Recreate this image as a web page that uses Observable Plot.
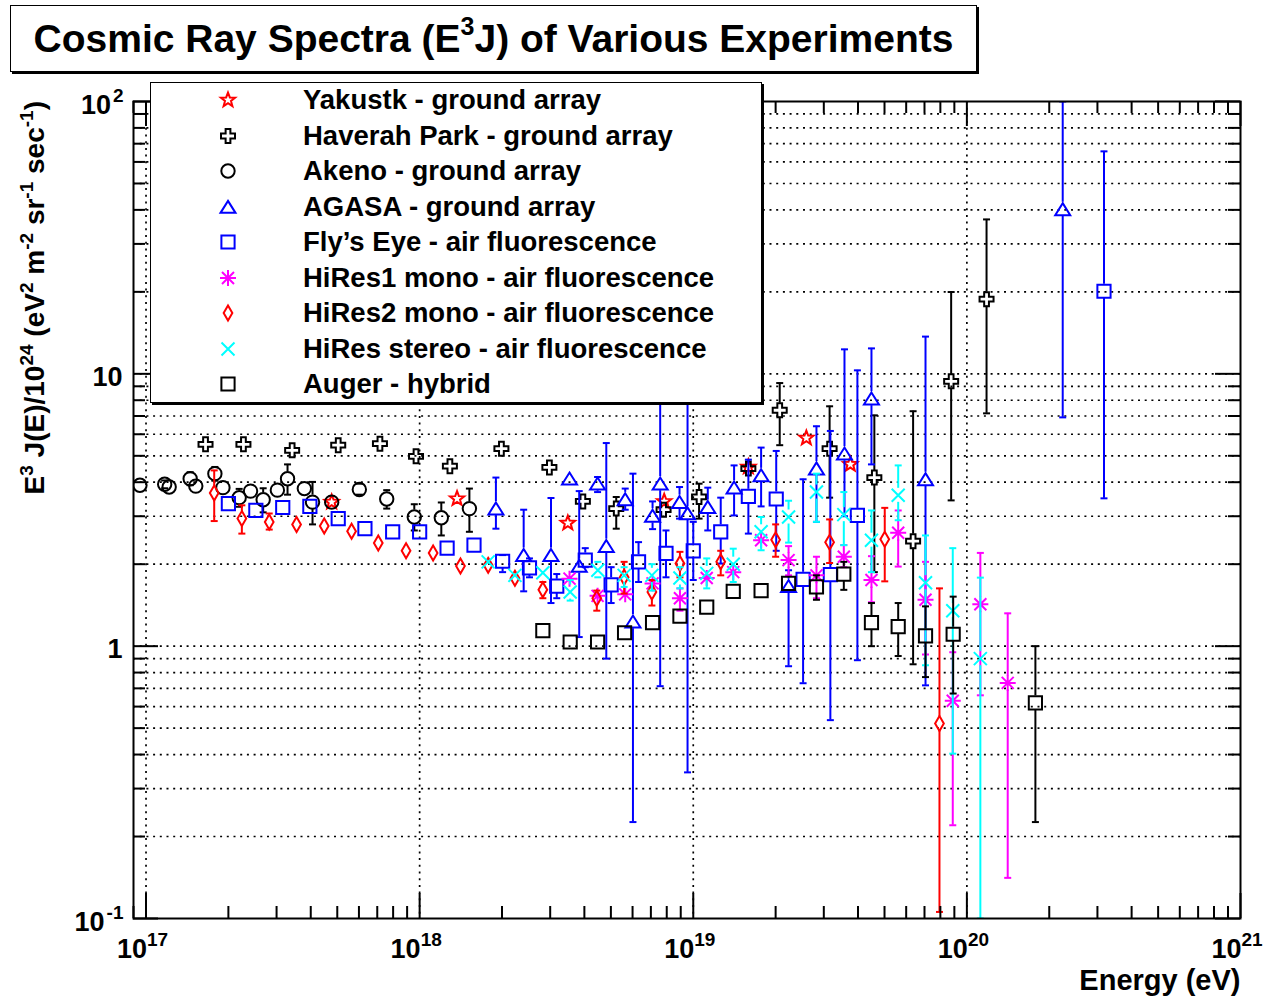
<!DOCTYPE html>
<html>
<head>
<meta charset="utf-8">
<script src="https://cdn.jsdelivr.net/npm/d3@7"></script>
<script src="https://cdn.jsdelivr.net/npm/@observablehq/plot@0.6"></script>
<style>
  body { margin: 0; background: #fff; }
  #chart { position: relative; width: 1268px; height: 1001px; font-family: "Liberation Sans", Arial, Helvetica, sans-serif; font-weight: bold; color: #000; }
  #chart svg { position: absolute; left: 0; top: 0; }
  #title { position: absolute; left: 10px; top: 5px; width: 967px; height: 67px; box-sizing: border-box; border: 1.5px solid #000; box-shadow: 2px 2px 0 #000; background: #fff; font-size: 39px; line-height: 66px; text-align: center; white-space: nowrap; }
  #title .sup { font-size: 25px; position: relative; top: -17px; }
  #legend { position: absolute; left: 150px; top: 82px; width: 612px; height: 321px; box-sizing: border-box; border: 1.5px solid #000; box-shadow: 2px 2px 0 #000; background: #fff; }
  #legend .row { position: absolute; left: 0; width: 100%; height: 34px; }
  #legend .row svg { position: absolute; left: 66px; top: 6px; width: 22px; height: 22px; overflow: visible; }
  #legend .row span { position: absolute; left: 152px; top: 0; line-height: 34px; font-size: 27.5px; white-space: nowrap; }
</style>
</head>
<body>
<div id="chart"></div>
<script>
// Rows: [energy (eV), E^3 J(E) / 1e24, lower error end, upper error end]
const yakutsk = [
  [4.77e17, 3.38], [1.37e18, 3.48], [3.48e18, 2.83], [7.83e18, 3.40],
  [1.59e19, 4.55], [2.59e19, 5.81], [3.75e19, 4.65]
];
const haverahPark = [
  [1.65e17, 5.51], [2.27e17, 5.51], [3.42e17, 5.24], [5.04e17, 5.47], [7.16e17, 5.54],
  [9.70e17, 4.98], [1.29e18, 4.58], [1.99e18, 5.31], [2.98e18, 4.53], [3.95e18, 3.40],
  [5.23e18, 3.20, 2.70, 3.53], [7.79e18, 3.17], [1.05e19, 3.53, 2.94, 3.95], [1.59e19, 4.49],
  [2.07e19, 7.35, 5.47, 9.25], [3.15e19, 5.31, 3.51, 7.60], [4.59e19, 4.16, 1.87, 7.04],
  [6.36e19, 2.43, 0.858, 7.29], [8.76e19, 9.39, 3.43, 19.97], [1.18e20, 18.8, 7.16, 36.9]
];
const akeno = [
  [9.5e16, 3.90], [1.17e17, 3.93, 3.80, 4.06], [1.215e17, 3.84], [1.45e17, 4.12, 3.90, 4.35],
  [1.52e17, 3.87], [1.785e17, 4.30, 4.05, 4.55], [1.91e17, 3.82], [2.19e17, 3.51, 3.25, 3.78],
  [2.41e17, 3.71], [2.68e17, 3.45, 3.10, 3.80], [3.02e17, 3.74], [3.29e17, 4.12, 3.60, 4.65],
  [3.79e17, 3.79], [4.06e17, 3.38, 2.80, 4.01], [4.77e17, 3.38], [6.02e17, 3.76, 3.60, 3.95],
  [7.58e17, 3.47, 3.20, 3.74], [9.56e17, 2.98, 2.66, 3.32], [1.20e18, 2.96, 2.55, 3.37],
  [1.52e18, 3.20, 2.63, 3.79]
];
const agasa = [
  [1.90e18, 3.20, 2.70, 4.16], [2.40e18, 2.16, 1.59, 3.17], [3.02e18, 2.16, 1.44, 3.50],
  [3.53e18, 4.12], [3.83e18, 1.97, 1.08, 3.71], [4.47e18, 3.95, 3.68, 4.18],
  [4.81e18, 2.33, 0.90, 5.57], [5.64e18, 3.46, 3.17, 3.79], [6.02e18, 1.23, 0.226, 4.30],
  [7.10e18, 3.01, 2.69, 3.40], [7.57e18, 3.95, 0.713, 12.0], [8.91e18, 3.38, 2.94, 3.84],
  [9.53e18, 3.07, 0.344, 11.0], [1.13e19, 3.24, 2.66, 3.82], [1.41e19, 3.82, 3.02, 4.61],
  [1.77e19, 4.24, 3.26, 5.36], [2.23e19, 1.66, 0.844, 1.90], [2.82e19, 4.49, 2.86, 6.42],
  [3.57e19, 5.09, 3.00, 12.3], [4.48e19, 8.11, 4.65, 12.4], [7.06e19, 4.10, 0.718, 13.7],
  [2.24e20, 40.2, 6.92, 100]
];
const flysEye = [
  [2.00e17, 3.34], [2.52e17, 3.15], [3.16e17, 3.23], [3.97e17, 3.26], [5.04e17, 2.94],
  [6.31e17, 2.70], [7.97e17, 2.63], [1.00e18, 2.63], [1.26e18, 2.29], [1.58e18, 2.35],
  [2.01e18, 2.05, 1.87, 2.16], [2.52e18, 1.94, 1.79, 2.10], [3.17e18, 1.66, 1.50, 1.84],
  [4.03e18, 2.07, 1.95, 2.29], [5.01e18, 1.68, 1.44, 1.95], [6.31e18, 2.04, 1.72, 2.41],
  [7.95e18, 2.19, 1.79, 2.66], [1.00e19, 2.24, 1.75, 2.86], [1.26e19, 2.63, 2.01, 3.51],
  [1.59e19, 3.55, 2.59, 4.84], [2.01e19, 3.47, 2.24, 5.21], [2.52e19, 1.76, 0.731, 4.10],
  [3.17e19, 1.83, 0.535, 6.17], [3.98e19, 3.02, 0.888, 10.3], [3.17e20, 20.1, 3.49, 65.6]
];
const hires1 = [
  [3.53e18, 1.77], [4.47e18, 1.53], [5.64e18, 1.55], [7.10e18, 1.70], [8.94e18, 1.50, 1.35, 1.63],
  [1.12e19, 1.78], [1.40e19, 1.87], [1.77e19, 2.45], [2.23e19, 2.07, 1.82, 2.33],
  [2.82e19, 1.82, 1.50, 2.13], [3.55e19, 2.13, 1.95, 2.35], [4.48e19, 1.75, 1.45, 2.14],
  [5.61e19, 2.61, 1.96, 3.15], [7.06e19, 1.48, 0.932, 2.04], [8.88e19, 0.63, 0.22, 0.95],
  [1.12e20, 1.425, 0.66, 2.20], [1.41e20, 0.733, 0.141, 1.32]
];
const hires2 = [
  [1.775e17, 3.65, 2.88, 4.42], [2.24e17, 2.94, 2.59, 3.29], [2.82e17, 2.86, 2.68, 3.07],
  [3.55e17, 2.80], [4.48e17, 2.76], [5.64e17, 2.64], [7.06e17, 2.39], [8.92e17, 2.24],
  [1.12e18, 2.20], [1.41e18, 1.97], [1.78e18, 1.98], [2.23e18, 1.776],
  [2.82e18, 1.61, 1.50, 1.72], [4.44e18, 1.50, 1.35, 1.60], [5.59e18, 1.79, 1.56, 2.04],
  [7.06e18, 1.58, 1.41, 1.75], [8.94e18, 2.01, 1.79, 2.22], [1.26e19, 2.04, 1.82, 2.24],
  [2.00e19, 2.46, 2.13, 2.80], [3.15e19, 2.41, 2.02, 2.92], [5.01e19, 2.47, 1.73, 3.22],
  [7.94e19, 0.52, 0.1057, 1.63]
];
const hiresStereo = [
  [1.78e18, 2.04], [2.23e18, 1.82], [2.82e18, 1.86], [3.55e18, 1.58, 1.47, 1.75],
  [4.48e18, 1.90, 1.79, 2.04], [5.59e18, 1.82, 1.65, 1.95], [7.06e18, 1.82, 1.60, 2.00],
  [8.94e18, 1.78, 1.63, 1.95], [1.12e19, 1.85, 1.63, 2.10], [1.40e19, 2.00, 1.72, 2.28],
  [1.77e19, 2.63, 2.25, 2.98], [2.23e19, 2.98, 2.40, 3.42], [2.82e19, 3.68, 2.86, 4.30],
  [3.55e19, 3.04, 2.35, 3.68], [4.48e19, 2.45, 1.87, 3.15], [5.61e19, 3.58, 2.90, 4.61],
  [7.06e19, 1.71, 0.851, 2.55], [8.88e19, 1.35, 0.403, 2.29], [1.12e20, 0.90, 0.1, 1.785]
];
const auger = [
  [2.82e18, 1.14], [3.55e18, 1.036], [4.47e18, 1.036], [5.61e18, 1.12], [7.10e18, 1.22],
  [8.94e18, 1.29], [1.12e19, 1.39], [1.40e19, 1.59], [1.77e19, 1.60], [2.23e19, 1.70],
  [2.82e19, 1.65, 1.48, 1.82], [3.55e19, 1.84, 1.61, 2.04], [4.48e19, 1.22, 1.00, 1.44],
  [5.61e19, 1.18, 0.92, 1.44], [7.06e19, 1.09, 0.77, 1.40], [8.91e19, 1.106, 0.67, 1.52],
  [1.78e20, 0.619, 0.226, 1.00]
];

const seriesNames = [
  "Yakustk - ground array", "Haverah Park - ground array", "Akeno - ground array",
  "AGASA - ground array", "Fly\u2019s Eye - air fluorescence", "HiRes1 mono - air fluorescence",
  "HiRes2 mono - air fluorescence", "HiRes stereo - air fluorescence", "Auger - hybrid"
];
const seriesColors = ["#ff0000", "#000000", "#000000", "#0000ff", "#0000ff", "#ff00ff", "#ff0000", "#00ffff", "#000000"];

// Axis tick labels
const xTickValues = [1e17, 1e18, 1e19, 1e20, 1e21];
const xTickExponents = ["17", "18", "19", "20", "21"];
const yTickValues = [0.1, 1, 10, 100];
const yTickBases = ["10", "1", "10", "10"];
const yTickExponents = ["-1", "", "", "2"];

// Marker shapes (size is the area π r², as Plot passes it)
const rOf = size => Math.sqrt(size / Math.PI);
const poly = (c, pts) => { pts.forEach(([x, y], i) => i ? c.lineTo(x, y) : c.moveTo(x, y)); c.closePath(); };
const starSym = {draw(c, size) {
  const r = rOf(size), ri = r * 0.42, pts = [];
  for (let k = 0; k < 10; k++) {
    const a = -Math.PI / 2 + k * Math.PI / 5, rr = k % 2 ? ri : r;
    pts.push([rr * Math.cos(a), rr * Math.sin(a)]);
  }
  poly(c, pts);
}};
const plusSym = {draw(c, size) {
  const r = rOf(size), a = r * 0.34;
  poly(c, [[-a,-r],[a,-r],[a,-a],[r,-a],[r,a],[a,a],[a,r],[-a,r],[-a,a],[-r,a],[-r,-a],[-a,-a]]);
}};
const circleSym = {draw(c, size) { const r = rOf(size); c.moveTo(r, 0); c.arc(0, 0, r, 0, 2 * Math.PI); }};
const triangleSym = {draw(c, size) { const r = rOf(size); poly(c, [[0, -0.82 * r], [r, 0.78 * r], [-r, 0.78 * r]]); }};
const squareSym = {draw(c, size) { const r = rOf(size); c.rect(-r, -r, 2 * r, 2 * r); }};
const asteriskSym = {draw(c, size) {
  const r = rOf(size), d = r * 0.75;
  c.moveTo(0, -r); c.lineTo(0, r); c.moveTo(-r, 0); c.lineTo(r, 0);
  c.moveTo(-d, -d); c.lineTo(d, d); c.moveTo(d, -d); c.lineTo(-d, d);
}};
const diamondSym = {draw(c, size) { const r = rOf(size); poly(c, [[0, -r], [0.58 * r, 0], [0, r], [-0.58 * r, 0]]); }};
const timesSym = {draw(c, size) { const r = rOf(size); c.moveTo(-r, -r); c.lineTo(r, r); c.moveTo(r, -r); c.lineTo(-r, r); }};
const capSym = {draw(c, size) { const r = rOf(size); c.moveTo(-r, 0); c.lineTo(r, 0); }};

const seriesData = [yakutsk, haverahPark, akeno, agasa, flysEye, hires1, hires2, hiresStereo, auger];
const seriesSymbols = [starSym, plusSym, circleSym, triangleSym, squareSym, asteriskSym, diamondSym, timesSym, squareSym];
const seriesRadius = [7.5, 7, 6.7, 7.5, 6.6, 8, 7.5, 6.5, 6.6];

const GAP = 7; // error bars stop at the marker outline
function seriesMarks(data, color, symbol, r) {
  const rows = data.map(([E, J, lo, hi]) => ({E, J, lo: lo ?? J, hi: hi ?? J}));
  const common = {x: "E", stroke: color, strokeWidth: 2, clip: true};
  return [
    Plot.ruleX(rows.filter(d => d.hi / d.J > 1.065), {...common, y1: "hi", y2: "J", insetBottom: GAP}),
    Plot.ruleX(rows.filter(d => d.J / d.lo > 1.065), {...common, y1: "J", y2: "lo", insetTop: GAP}),
    Plot.dot(rows.filter(d => d.hi > d.J), {...common, y: "hi", symbol: capSym, r: 3.5, fill: "none"}),
    Plot.dot(rows.filter(d => d.lo < d.J), {...common, y: "lo", symbol: capSym, r: 3.5, fill: "none"}),
    Plot.dot(rows, {...common, y: "J", symbol, r, fill: "none"})
  ];
}

// Grid and tick positions
const decades = [1e17, 1e18, 1e19, 1e20];
const xMinor = [9e16];
for (const d of decades) for (let k = 2; k <= 9; k++) xMinor.push(k * d);
const yMinor = [];
for (const d of [0.1, 1, 10]) for (let k = 2; k <= 9; k++) yMinor.push(k * d);
const yGrid = [...yMinor, 1, 10];

const MAJOR = 25, MINOR = 12;
const tickStyle = {stroke: "black", strokeWidth: 2};
const dotted = {stroke: "black", strokeWidth: 1.7, strokeDasharray: "2,4.7"};

const supWidth = s => [...s].reduce((w, ch) => w + (ch === "-" ? 0.333 : 0.556) * 19, 0);
const yLabelMarks = yTickValues.flatMap((v, i) => {
  const exp = yTickExponents[i], ew = exp ? supWidth(exp) + 1 : 0;
  const marks = [Plot.text([v], {x: 9e16, y: d => d, text: () => yTickBases[i], textAnchor: "end", lineAnchor: "bottom", dx: -11 - ew, dy: 12, fontSize: 27, fontWeight: "bold"})];
  if (exp) marks.push(Plot.text([v], {x: 9e16, y: d => d, text: () => exp, textAnchor: "end", lineAnchor: "bottom", dx: -10, dy: 0, fontSize: 19, fontWeight: "bold"}));
  return marks;
});

const chart = Plot.plot({
  width: 1268,
  height: 1001,
  marginLeft: 133,
  marginRight: 28,
  marginTop: 101,
  marginBottom: 83,
  style: {background: "transparent", fontFamily: "'Liberation Sans', Arial, Helvetica, sans-serif", overflow: "visible"},
  x: {type: "log", domain: [9e16, 1e21], axis: null},
  y: {type: "log", domain: [0.1, 100], axis: null},
  marks: [
    Plot.ruleY(yGrid, {y: d => d, ...dotted}),
    Plot.ruleX(decades, {x: d => d, ...dotted}),
    ...seriesData.flatMap((data, i) => seriesMarks(data, seriesColors[i], seriesSymbols[i], seriesRadius[i])),
    Plot.frame({stroke: "black", strokeWidth: 2}),
    // ticks on all four sides, pointing inward
    Plot.ruleX(xMinor, {x: d => d, y1: 0.1, y2: 0.1, insetBottom: MINOR, ...tickStyle}),
    Plot.ruleX(xTickValues, {x: d => d, y1: 0.1, y2: 0.1, insetBottom: MAJOR, ...tickStyle}),
    Plot.ruleX(xMinor, {x: d => d, y1: 100, y2: 100, insetTop: MINOR, ...tickStyle}),
    Plot.ruleX(xTickValues, {x: d => d, y1: 100, y2: 100, insetTop: MAJOR, ...tickStyle}),
    Plot.ruleY(yMinor, {y: d => d, x1: 9e16, x2: 9e16, insetLeft: MINOR, ...tickStyle}),
    Plot.ruleY(yTickValues, {y: d => d, x1: 9e16, x2: 9e16, insetLeft: MAJOR, ...tickStyle}),
    Plot.ruleY(yMinor, {y: d => d, x1: 1e21, x2: 1e21, insetRight: MINOR, ...tickStyle}),
    Plot.ruleY(yTickValues, {y: d => d, x1: 1e21, x2: 1e21, insetRight: MAJOR, ...tickStyle}),
    // tick labels 10^n
    Plot.text(xTickValues, {x: d => d, y: 0.1, text: () => "10", textAnchor: "end", lineAnchor: "bottom", dx: 1, dy: 39, fontSize: 27, fontWeight: "bold"}),
    Plot.text(xTickValues, {x: d => d, y: 0.1, text: (d, i) => xTickExponents[i], textAnchor: "start", lineAnchor: "bottom", dx: 1, dy: 27, fontSize: 19, fontWeight: "bold"}),
    ...yLabelMarks,
    Plot.text(["Energy (eV)"], {x: 1e21, y: 0.1, textAnchor: "end", lineAnchor: "bottom", dy: 71, fontSize: 29, fontWeight: "bold"})
  ]
});

const root = document.getElementById("chart");
root.appendChild(chart);

// Vertical axis title with superscripts
const titleParts = [["E", 0], ["3", 1], [" J(E)/10", 0], ["24", 1], [" (eV", 0], ["2", 1], [" m", 0], ["-2", 1], [" sr", 0], ["-1", 1], [" sec", 0], ["-1", 1], [")", 0]];
const yTitle = d3.select(chart).append("text")
  .attr("transform", "translate(44,101) rotate(-90)")
  .attr("text-anchor", "end")
  .attr("font-size", 28)
  .attr("font-weight", "bold");
let raised = false;
for (const [t, sup] of titleParts) {
  const ts = yTitle.append("tspan").text(t);
  if (sup) { ts.attr("font-size", 19); if (!raised) { ts.attr("dy", -11); raised = true; } }
  else if (raised) { ts.attr("dy", 11); raised = false; }
}

// Title box
const title = document.createElement("div");
title.id = "title";
title.innerHTML = 'Cosmic Ray Spectra (E<span class="sup">3</span>J) of Various Experiments';
root.appendChild(title);

// Legend box
const legend = document.createElement("div");
legend.id = "legend";
seriesNames.forEach((name, i) => {
  const row = document.createElement("div");
  row.className = "row";
  row.style.top = (0 + i * 35.5) + "px";
  const svg = d3.create("svg");
  const r = seriesRadius[i];
  svg.append("path")
    .attr("transform", "translate(11,11)")
    .attr("d", d3.symbol(seriesSymbols[i], Math.PI * r * r)())
    .attr("fill", "none")
    .attr("stroke", seriesColors[i])
    .attr("stroke-width", 2);
  row.appendChild(svg.node());
  const label = document.createElement("span");
  label.textContent = name;
  row.appendChild(label);
  legend.appendChild(row);
});
root.appendChild(legend);
</script>
</body>
</html>
